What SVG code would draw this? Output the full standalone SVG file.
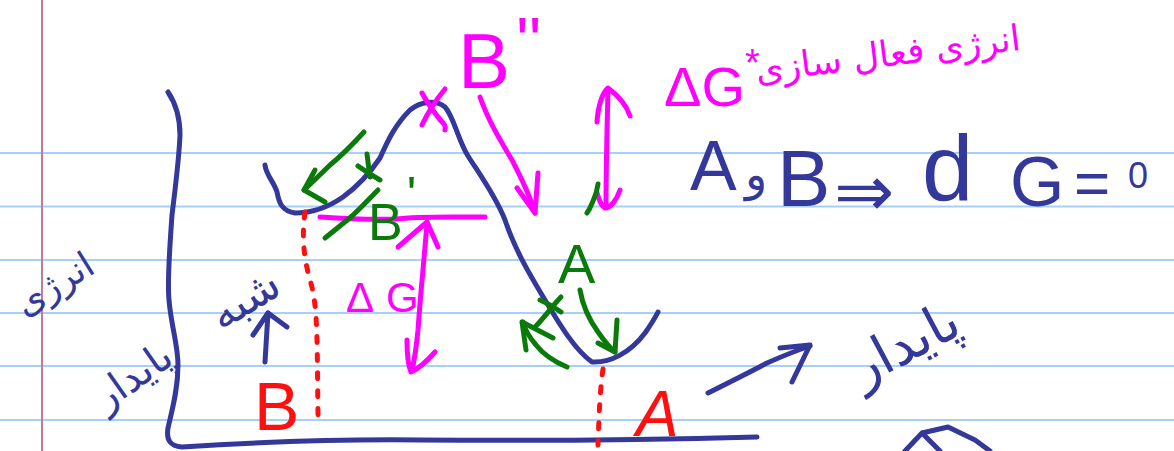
<svg xmlns="http://www.w3.org/2000/svg" width="1174" height="451" viewBox="0 0 1174 451">
<style>
.s{fill:none;stroke-width:5;stroke-linecap:round;stroke-linejoin:round}
.n{stroke:#33389a}.p{stroke:#ff00ff}.g{stroke:#0a7a0a}.r{stroke:#ff1010}
.rule{stroke:#a6cffa;stroke-width:2}
.t{font-family:"Liberation Sans","DejaVu Sans",sans-serif}
.fa{font-family:"DejaVu Sans",sans-serif}
</style>
<rect width="1174" height="451" fill="#ffffff"/>
<g id="paper">
<line class="rule" x1="0" y1="153" x2="1174" y2="153"/>
<line class="rule" x1="0" y1="206.5" x2="1174" y2="206.5"/>
<line class="rule" x1="0" y1="260" x2="1174" y2="260"/>
<line class="rule" x1="0" y1="313" x2="1174" y2="313"/>
<line class="rule" x1="0" y1="366" x2="1174" y2="366"/>
<line class="rule" x1="0" y1="420" x2="1174" y2="420"/>
<line x1="42" y1="0" x2="42" y2="451" stroke="#c27a9a" stroke-width="2"/>
</g>
<g id="axes">
<path class="s n" d="M168,92 C176,104 180,118 180,135 C179,160 175,190 172,215 C170,245 167,280 169,300 C171,325 178,345 178,365 C178,390 172,410 168,428 C166,440 170,446 182,447 C260,442 330,439 420,440 C540,441 650,440 757,437"/>
</g>
<g id="curve">
<path class="s n" d="M265,165 C266,175 274,182 277,192 C279,203 282,211 295,213 C315,213 330,206 343,197 C358,186 372,170 380,158 C388,140 395,125 410,110 C420,102 435,99 445,107 C454,117 458,140 468,156 C480,175 495,195 505,220 C515,250 530,275 545,300 C560,325 575,350 592,362 C610,363 630,353 645,333 C652,323 656,316 658,312"/>
</g>
<g id="connectors">
<path class="s p" d="M480,97 C488,120 500,140 512,160 C522,180 530,195 535,213"/>
<path class="s p" d="M517,188 L535,213 L538,173"/>
<path class="s p" d="M608,89 C607,130 606,170 606,205"/>
<path class="s p" d="M597,122 C598,105 603,92 608,88 C616,94 626,104 630,116"/>
<path class="s p" d="M597,193 C599,200 601,206 605,208 C611,208 617,199 620,190"/>
<path class="s p" d="M320,217 C350,219 370,220 395,219 C420,216 450,217 485,217"/>
<path class="s p" d="M427,224 C424,260 420,300 418,330 C416,350 414,362 412,370"/>
<path class="s p" d="M398,247 L427,222 L438,247"/>
<path class="s p" d="M407,340 C407,355 408,365 411,372 C420,368 428,360 435,352"/>
<path class="s p" d="M422,93 C428,104 436,115 443,123 M445,89 C436,100 428,112 422,125 M440,120 C444,123 446,127 445,130"/>
<path class="s g" d="M364,132 C352,145 340,157 330,165 C320,175 310,184 304,190"/>
<path class="s g" d="M315,170 L304,190 L325,202"/>
<path class="s g" d="M358,166 C365,171 373,176 380,180 M367,154 C368,162 369,170 370,177"/>
<path class="s g" d="M325,238 C335,230 345,222 352,216 C362,207 370,198 378,190"/>
<path class="s g" d="M580,290 C582,302 588,318 598,332 C605,342 610,348 615,352"/>
<path class="s g" d="M598,343 L615,352 L617,320"/>
<path class="s g" d="M540,300 C547,303 553,306 561,312 M561,297 C553,305 545,317 535,327"/>
<path class="s g" d="M567,367 C555,362 543,354 536,345 C530,338 525,330 523,322"/>
<path class="s g" d="M526,350 L522,322 L553,338"/>
<path class="s g" d="M598,184 C597,192 595,197 593,201 C591,206 590,209 587,213"/>
<path class="s r" stroke-dasharray="6 12" d="M305,212 C302,235 303,255 310,280 C318,305 317,340 318,415"/>
<path class="s r" stroke-dasharray="6 12" d="M603,369 C600,390 599,415 598,445"/>
<path class="s n" d="M708,393 C730,382 750,372 767,363 C785,355 798,350 810,346"/>
<path class="s n" d="M780,348 L810,345 L792,382"/>
<path class="s n" d="M265,362 C266,345 267,328 268,313"/>
<path class="s n" d="M253,335 L268,313 L287,327"/>
<path class="s n" d="M905,451 L922,433 L948,427 L975,440 L990,451 M922,433 L940,451"/>
</g>
<g id="labels">
<text class="t" x="458" y="88" font-size="78" fill="#ff00ff">B<tspan dx="6" dy="-24" font-size="66">''</tspan></text>
<text class="t" x="664" y="106" font-size="56" fill="#ff00ff">ΔG<tspan dx="0" dy="-30" font-size="38">*</tspan></text>
<text class="fa" x="1022" y="66" font-size="36" fill="#ff00ff" text-anchor="end" transform="rotate(-7 890 60)">انرژی فعال سازی</text>
<text class="t" x="346" y="312" font-size="42" fill="#ff00ff">Δ<tspan dx="12">G</tspan></text>
<text class="t" x="368" y="240" font-size="52" fill="#0a7a0a">B<tspan dx="4" dy="-28" font-size="50">'</tspan></text>
<text class="t" x="558" y="283" font-size="56" fill="#0a7a0a">A</text>
<text class="t" x="254" y="430" font-size="68" fill="#ff1010">B</text>
<text class="t" x="636" y="436" font-size="64" fill="#ff1010" font-style="italic">A</text>
<g fill="#33389a">
<text class="t" x="690" y="190" font-size="70">A</text>
<text class="fa" x="745" y="190" font-size="46">و</text>
<text class="t" x="777" y="206" font-size="80">B</text>
<text class="t" x="834" y="216" font-size="72">⇒</text>
<text class="t" x="922" y="200" font-size="92">d</text>
<text class="t" x="1010" y="206" font-size="70">G</text>
<text class="t" x="1074" y="204" font-size="62">=</text>
<text class="t" x="1128" y="188" font-size="36">0</text>
<text class="fa" x="905" y="362" font-size="54" text-anchor="middle" transform="rotate(-28 905 345)">پایدار</text>
<text class="fa" x="55" y="296" font-size="36" text-anchor="middle" transform="rotate(-32 55 285)">انرژی</text>
<text class="fa" x="245" y="314" font-size="44" text-anchor="middle" transform="rotate(-32 245 300)">شبه</text>
<text class="fa" x="132" y="390" font-size="40" text-anchor="middle" transform="rotate(-35 132 375)">پایدار</text>
</g>
</g>
</svg>
